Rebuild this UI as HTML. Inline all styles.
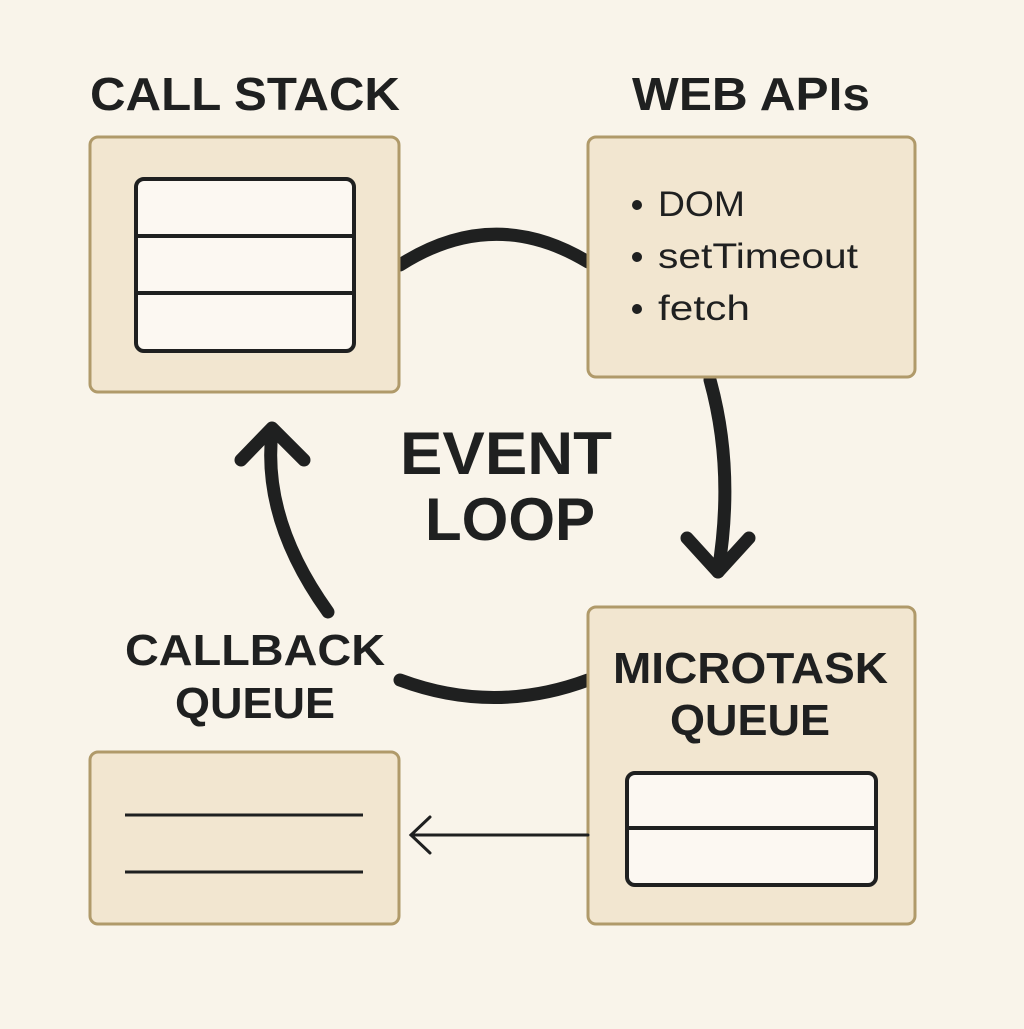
<!DOCTYPE html>
<html><head><style>body{margin:0;background:#f9f4ea}</style></head><body>
<svg width="1024" height="1024" viewBox="0 0 1024 1024" xmlns="http://www.w3.org/2000/svg">
<rect width="1024" height="1024" fill="#f9f4ea"/>
<g fill="none" stroke="#1f2020" stroke-width="13" stroke-linecap="round" stroke-linejoin="round">
<path d="M400 265 Q494 205 588 262"/>
<path d="M710 380 Q735 470 718 572"/>
<path d="M687 538 L718 572 L749 538"/>
<path d="M400 680 Q494 715 588 680"/>
<path d="M328 612 Q262 520 272 432"/>
<path d="M241 460 L272 428 L304 460"/>
</g>
<g fill="#f2e6d0" stroke="#b09a6a" stroke-width="3">
<rect x="90" y="137" width="309" height="255" rx="8"/>
<rect x="588" y="137" width="327" height="240" rx="8"/>
<rect x="588" y="607" width="327" height="317" rx="8"/>
<rect x="90" y="752" width="309" height="172" rx="8"/>
</g>
<g stroke="#1f2020" stroke-width="4" fill="#fcf8f2">
<rect x="136" y="179" width="218" height="172" rx="8"/>
<line x1="136" y1="236" x2="354" y2="236"/>
<line x1="136" y1="293" x2="354" y2="293"/>
<rect x="627" y="773" width="249" height="112" rx="8"/>
<line x1="627" y1="828" x2="876" y2="828"/>
<line x1="125" y1="815" x2="363" y2="815" stroke-width="3"/>
<line x1="125" y1="872" x2="363" y2="872" stroke-width="3"/>
</g>
<g fill="none" stroke="#1f2020" stroke-width="3" stroke-linecap="round">
<line x1="588" y1="835" x2="411" y2="835"/>
<path d="M430 817 L411 835 L430 853"/>
</g>
<g font-family="Liberation Sans, sans-serif" font-weight="bold" fill="#1f2020" lengthAdjust="spacingAndGlyphs">
<text x="90" y="110" font-size="46" textLength="310" lengthAdjust="spacingAndGlyphs">CALL STACK</text>
<text x="632" y="110" font-size="46" textLength="238" lengthAdjust="spacingAndGlyphs">WEB APIs</text>
<text x="400" y="474" font-size="60" textLength="212" lengthAdjust="spacingAndGlyphs">EVENT</text>
<text x="425" y="540" font-size="60" textLength="170" lengthAdjust="spacingAndGlyphs">LOOP</text>
<text x="125" y="665" font-size="44" textLength="260" lengthAdjust="spacingAndGlyphs">CALLBACK</text>
<text x="175" y="718" font-size="44" textLength="160" lengthAdjust="spacingAndGlyphs">QUEUE</text>
<text x="613" y="683" font-size="44" textLength="275" lengthAdjust="spacingAndGlyphs">MICROTASK</text>
<text x="670" y="735" font-size="44" textLength="160" lengthAdjust="spacingAndGlyphs">QUEUE</text>
</g>
<g font-family="Liberation Sans, sans-serif" font-size="35" fill="#1f2020">
<circle cx="637" cy="205" r="5"/><text x="658" y="216" textLength="87" lengthAdjust="spacingAndGlyphs">DOM</text>
<circle cx="637" cy="257" r="5"/><text x="658" y="268" textLength="200" lengthAdjust="spacingAndGlyphs">setTimeout</text>
<circle cx="637" cy="309" r="5"/><text x="658" y="320" textLength="92" lengthAdjust="spacingAndGlyphs">fetch</text>
</g>
</svg>
</body></html>
